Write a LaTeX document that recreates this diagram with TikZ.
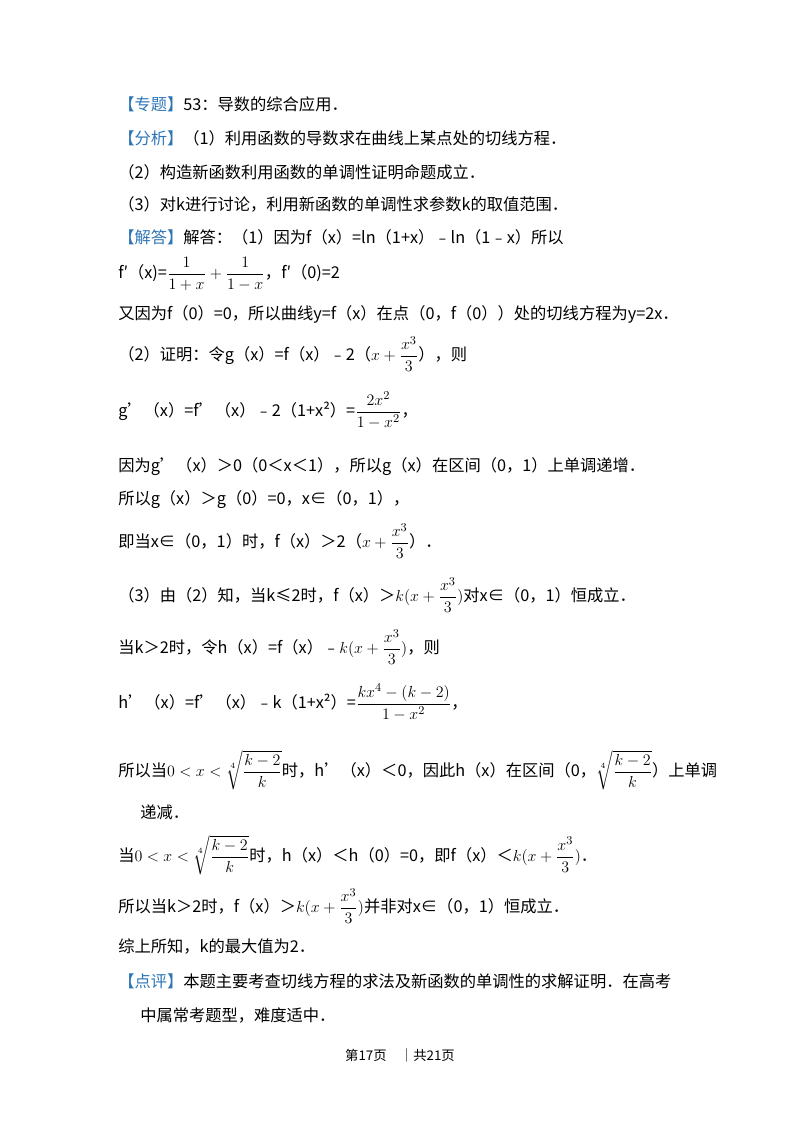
\documentclass[tikz,border=0pt]{standalone}
\usepackage{fontspec}
\usepackage{amsmath,amssymb}
\setmainfont{Noto Sans CJK SC}
\definecolor{tagblue}{HTML}{2E75B6}
\newcommand{\tg}[1]{\textcolor{tagblue}{【#1】}}
\newcommand{\xc}{\dfrac{x^3}{3}}
\begin{document}
\begin{tikzpicture}[x=0.75pt,y=-0.75pt,
  ln/.style={anchor=west,inner sep=0pt,font=\fontsize{12.2}{15}\selectfont}]
\useasboundingbox (0,0) rectangle (800,1132);
\node[ln] (l1) at (118,104) {\tg{专题}53：导数的综合应用．};
\node[ln] (l2) at (118,138) {\tg{分析}（1）利用函数的导数求在曲线上某点处的切线方程．};
\node[ln] (l3) at (118,172) {（2）构造新函数利用函数的单调性证明命题成立．};
\node[ln] (l4) at (118,204) {（3）对k进行讨论，利用新函数的单调性求参数k的取值范围．};
\node[ln] (l5) at (118,237) {\tg{解答}解答：（1）因为f（x）=ln（1+x）﹣ln（1﹣x）所以};
\node[ln] (l6) at (118,274) {f′（x)=$\dfrac{1}{1+x}+\dfrac{1}{1-x}$，f′（0)=2};
\node[ln] (l7) at (118,314) {又因为f（0）=0，所以曲线y=f（x）在点（0，f（0））处的切线方程为y=2x．};
\node[ln] (l8) at (118,354) {（2）证明：令g（x）=f（x）﹣2（$x+\xc$），则};
\node[ln] (l9) at (118,410) {g'（x）=f'（x）﹣2（1+x²）=$\dfrac{2x^2}{1-x^2}$，};
\node[ln] (l10) at (118,467) {因为g'（x）＞0（0＜x＜1），所以g（x）在区间（0，1）上单调递增．};
\node[ln] (l11) at (118,500) {所以g（x）＞g（0）=0，x∈（0，1），};
\node[ln] (l12) at (118,541) {即当x∈（0，1）时，f（x）＞2（$x+\xc$）．};
\node[ln] (l13) at (118,595) {（3）由（2）知，当k≤2时，f（x）＞$k(x+\xc)$对x∈（0，1）恒成立．};
\node[ln] (l14) at (118,647) {当k＞2时，令h（x）=f（x）﹣$k(x+\xc)$，则};
\node[ln] (l15) at (118,702) {h'（x）=f'（x）﹣k（1+x²）=$\dfrac{kx^4-(k-2)}{1-x^2}$，};
\node[ln] (l16) at (118,770) {所以当$0<x<\sqrt[4]{\dfrac{k-2}{k}}$时，h'（x）＜0，因此h（x）在区间（0，$\sqrt[4]{\dfrac{k-2}{k}}$）上单调};
\node[ln] (l17) at (140,812) {递减．};
\node[ln] (l18) at (118,855) {当$0<x<\sqrt[4]{\dfrac{k-2}{k}}$时，h（x）＜h（0）=0，即f（x）＜$k(x+\xc)$．};
\node[ln] (l19) at (118,906) {所以当k＞2时，f（x）＞$k(x+\xc)$并非对x∈（0，1）恒成立．};
\node[ln] (l20) at (118,946) {综上所知，k的最大值为2．};
\node[ln] (l21) at (118,981) {\tg{点评}本题主要考查切线方程的求法及新函数的单调性的求解证明．在高考};
\node[ln] (l22) at (140,1015) {中属常考题型，难度适中．};
\node[anchor=center,inner sep=0pt,font=\fontsize{10}{12}\selectfont] (ft) at (400,1055) {第17页　｜共21页};
\end{tikzpicture}
\end{document}
